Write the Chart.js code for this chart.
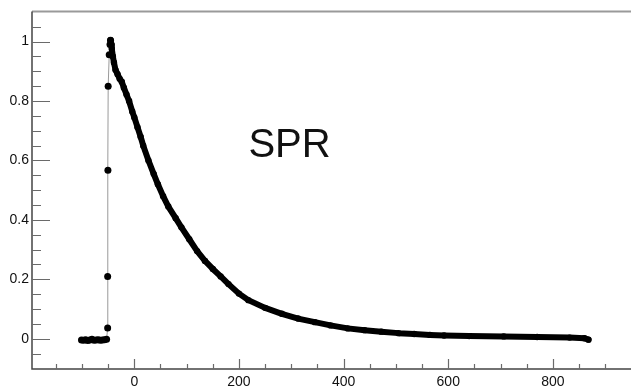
<!DOCTYPE html>
<html>
<head>
<meta charset="utf-8">
<script src="https://cdn.jsdelivr.net/npm/chart.js@4.4.1/dist/chart.umd.min.js"></script>
<style>
  html, body { margin: 0; padding: 0; background: #fff; }
  #wrap { width: 635px; height: 387px; position: relative; }
</style>
</head>
<body>
<div id="wrap"><canvas id="chart"></canvas></div>
<script>
// Baseline + rising edge (sparse points, joined by a thin grey line)
const riseTimes = [-101, -97, -93, -89, -85, -81, -77, -73, -69, -65, -61, -57, -53, -51, -51, -50.5, -50, -48, -46.5, -45.5];
const riseValues = [-0.004, -0.005, -0.003, -0.006, -0.004, -0.002, -0.005, -0.004, -0.003, -0.005, -0.004, -0.003, -0.002, 0.036, 0.21, 0.567, 0.85, 0.956, 0.99, 1.005];

// Decay (dense points, drawn as a thick band)
const decayTimes = [-45.5, -44, -43, -41, -39, -36, -32, -28, -24, -20, -15, -10, -4, 0, 6, 12, 17, 27, 37, 45, 55, 65, 79, 90, 105, 120, 135, 150, 165, 180, 200, 218, 250, 282, 313, 345, 375, 408, 440, 472, 505, 535, 565, 592, 640, 706, 770, 832, 860, 868];
const decayValues = [1.005, 0.99, 0.975, 0.95, 0.93, 0.905, 0.89, 0.875, 0.865, 0.845, 0.822, 0.8, 0.765, 0.745, 0.712, 0.68, 0.65, 0.6, 0.555, 0.52, 0.48, 0.445, 0.406, 0.375, 0.335, 0.295, 0.262, 0.235, 0.21, 0.184, 0.152, 0.13, 0.104, 0.084, 0.068, 0.056, 0.045, 0.035, 0.029, 0.024, 0.019, 0.016, 0.013, 0.011, 0.009, 0.008, 0.006, 0.004, 0.002, -0.003];

const xTickLabels = [0, 200, 400, 600, 800];
const yTickLabels = [0, 0.2, 0.4, 0.6, 0.8, 1];
const xMinorTicks = [-150, -100, -50, 0, 50, 100, 150, 200, 250, 300, 350, 400, 450, 500, 550, 600, 650, 700, 750, 800, 850, 900];
const yMinorTicks = [-0.05, 0, 0.05, 0.1, 0.15, 0.2, 0.25, 0.3, 0.35, 0.4, 0.45, 0.5, 0.55, 0.6, 0.65, 0.7, 0.75, 0.8, 0.85, 0.9, 0.95, 1, 1.05];
const label = "SPR";

const labelFont = { family: "'Liberation Sans Narrow', 'Liberation Sans', Arial, sans-serif", size: 14 };

const toPoints = (xs, ys) => xs.map((x, i) => ({ x, y: ys[i] }));

// ROOT style frame: axis lines, major/minor ticks and the text label
const framePlugin = {
  id: "frame",
  afterDraw(chart) {
    const { ctx, chartArea, scales } = chart;
    const { left, right, top, bottom } = chartArea;
    ctx.save();

    // top frame line
    ctx.strokeStyle = "#9a9a9a";
    ctx.lineWidth = 2;
    ctx.beginPath();
    ctx.moveTo(left, top);
    ctx.lineTo(right, top);
    ctx.stroke();

    // axis lines
    ctx.strokeStyle = "#444";
    ctx.lineWidth = 1.5;
    ctx.beginPath();
    ctx.moveTo(left, top);
    ctx.lineTo(left, bottom);
    ctx.lineTo(right, bottom);
    ctx.stroke();

    // ticks
    ctx.strokeStyle = "#6a6a6a";
    ctx.lineWidth = 1.2;
    ctx.beginPath();
    yMinorTicks.forEach((v) => {
      const y = Math.round(scales.y.getPixelForValue(v)) + 0.5;
      const major = yTickLabels.some((t) => Math.abs(t - v) < 1e-6);
      ctx.moveTo(left, y);
      ctx.lineTo(left + (major ? 18 : 9), y);
    });
    xMinorTicks.forEach((v) => {
      const x = Math.round(scales.x.getPixelForValue(v)) + 0.5;
      const major = xTickLabels.includes(v);
      ctx.moveTo(x, bottom);
      ctx.lineTo(x, bottom - (major ? 10 : 5));
    });
    ctx.stroke();

    // text label
    ctx.fillStyle = "#111";
    ctx.font = "40px 'Liberation Sans', Arial, sans-serif";
    ctx.textBaseline = "alphabetic";
    ctx.fillText(label, scales.x.getPixelForValue(218), scales.y.getPixelForValue(0.611));
    ctx.restore();
  },
};

new Chart(document.getElementById("chart"), {
  type: "scatter",
  data: {
    datasets: [
      {
        label: "decay",
        data: toPoints(decayTimes, decayValues),
        showLine: true,
        borderColor: "#000",
        borderWidth: 6,
        borderCapStyle: "round",
        borderJoinStyle: "round",
        pointRadius: 3.2,
        pointBackgroundColor: "#000",
        pointBorderWidth: 0,
      },
      {
        label: "rise",
        data: toPoints(riseTimes, riseValues),
        showLine: true,
        borderColor: "#9a9a9a",
        borderWidth: 1,
        pointRadius: 3.5,
        pointBackgroundColor: "#000",
        pointBorderWidth: 0,
      },
    ],
  },
  options: {
    responsive: true,
    maintainAspectRatio: false,
    animation: false,
    devicePixelRatio: 1,
    layout: { padding: { top: 8, right: 0, bottom: 0, left: 0 } },
    plugins: { legend: { display: false }, tooltip: { enabled: false } },
    scales: {
      x: {
        type: "linear",
        min: -195.6,
        max: 949.3,
        grid: { display: false, drawTicks: false },
        border: { display: false },
        afterBuildTicks: (scale) => {
          scale.ticks = xTickLabels.map((value) => ({ value }));
        },
        afterFit: (scale) => {
          scale.height = 18;
          scale.paddingLeft = 0;
          scale.paddingRight = 0;
        },
        ticks: {
          color: "#111",
          font: labelFont,
          padding: 5,
          maxRotation: 0,
          autoSkip: false,
          callback: (value) => String(value),
        },
      },
      y: {
        type: "linear",
        min: -0.1017,
        max: 1.1017,
        grid: { display: false, drawTicks: false },
        border: { display: false },
        afterBuildTicks: (scale) => {
          scale.ticks = yTickLabels.map((value) => ({ value }));
        },
        afterFit: (scale) => {
          scale.width = 32;
        },
        ticks: {
          color: "#111",
          font: labelFont,
          padding: 3,
          autoSkip: false,
          callback: (value) => String(value),
        },
      },
    },
  },
  plugins: [framePlugin],
});
</script>
</body>
</html>
